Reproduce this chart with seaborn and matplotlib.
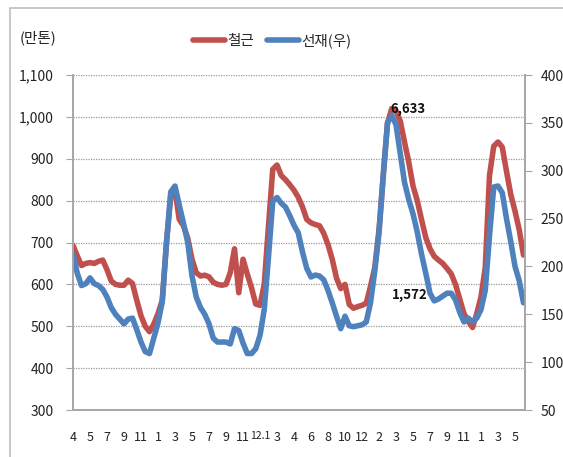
import matplotlib
matplotlib.use("Agg")
import matplotlib.pyplot as plt
import matplotlib.patches as mpatches
import seaborn as sns
import numpy as np
import pandas as pd

# 주간 재고 (철근: 만톤, 좌축 / 선재: 천톤, 우축)
rebar = [693, 668, 645, 650, 652, 650, 655, 658, 635, 608,
         600, 598, 598, 610, 602, 562, 525, 500, 487, 505,
         530, 562, 700, 810, 825, 755, 740, 710, 660, 628,
         620, 622, 618, 605, 600, 598, 600, 628, 685, 580,
         660, 625, 592, 553, 550, 600, 740, 875, 885, 860,
         850, 838, 825, 808, 785, 755, 747, 743, 740, 722,
         695, 660, 615, 590, 600, 552, 543, 547, 550, 555,
         595, 640, 730, 860, 985, 1020, 1015, 990, 940, 892,
         835, 800, 755, 712, 685, 667, 658, 650, 638, 625,
         600, 565, 530, 512, 497, 530, 570, 640, 860, 930,
         940, 928, 870, 815, 775, 730, 670]
wire_rod = [213, 193, 180, 182, 188, 182, 180, 176, 168, 157,
            150, 145, 140, 145, 146, 134, 121, 111, 109, 125,
            141, 163, 225, 278, 284, 264, 245, 225, 190, 168,
            157, 150, 140, 125, 121, 121, 121, 119, 135, 133,
            120, 109, 109, 114, 128, 155, 210, 268, 272, 266,
            262, 253, 243, 235, 215, 198, 189, 191, 190, 186,
            175, 162, 148, 135, 148, 138, 137, 138, 139, 142,
            162, 195, 235, 295, 350, 358, 348, 318, 288, 270,
            255, 236, 213, 193, 172, 164, 166, 169, 172, 172,
            165, 152, 142, 146, 142, 146, 155, 175, 232, 283,
            284, 277, 250, 226, 200, 185, 162]
month_labels = ["4", "5", "7", "9", "11", "1", "3", "5", "7", "9", "11", "12.1", "3",
                "4", "6", "8", "10", "12", "2", "3", "5", "7", "9", "11", "1", "3", "5"]

df = pd.DataFrame({"week": np.arange(len(rebar)), "rebar": rebar, "wire_rod": wire_rod})

sns.set_style("white")
plt.rcParams["font.family"] = ["Noto Sans CJK KR", "DejaVu Sans"]

RED = "#C0504D"
BLUE = "#4F81BD"
GRAY = "#A6A6A6"

fig = plt.figure(figsize=(5.63, 4.57), dpi=100)
ax = fig.add_axes([73 / 563, 1 - 410 / 457, (525 - 73) / 563, (410 - 75) / 457])
ax2 = ax.twinx()

sns.lineplot(data=df, x="week", y="rebar", ax=ax, color=RED, lw=4,
             solid_capstyle="round", label="철근", legend=False)
sns.lineplot(data=df, x="week", y="wire_rod", ax=ax2, color=BLUE, lw=4,
             solid_capstyle="round", label="선재(우)", legend=False)

ax.set_xlim(0, (525 - 73) / 4.25)
ax.set_ylim(300, 1100)
ax2.set_ylim(50, 400)
ax.set_yticks(range(300, 1101, 100))
ax.set_yticklabels([f"{v:,}" for v in range(300, 1101, 100)])
ax2.set_yticks(range(50, 401, 50))
ax.set_xticks(np.arange(0, 4 * len(month_labels), 4))
ax.set_xticklabels(month_labels)

for a in (ax, ax2):
    a.set_xlabel("")
    a.set_ylabel("")
    for s in a.spines.values():
        s.set_color(GRAY)
        s.set_linewidth(1.2)
    a.spines["top"].set_visible(False)

ax.yaxis.grid(True, linestyle=(0, (1, 1)), color="#9a9a9a", lw=0.9)
ax.set_axisbelow(True)
ax.tick_params(axis="y", direction="out", length=5, color=GRAY, pad=9, labelsize=10, labelcolor="#222222")
ax2.tick_params(axis="y", direction="out", length=5, color=GRAY, pad=6, labelsize=10, labelcolor="#222222")
ax.tick_params(axis="x", length=0, pad=15, labelsize=9, labelcolor="#222222")
# 좁은 간격의 "12.1" 라벨만 조금 작게
for lbl in ax.get_xticklabels():
    if lbl.get_text() == "12.1":
        lbl.set_fontsize(7.5)

ax2.text(74.6, 364, "6,633", fontsize=9.5, fontweight="bold", color="#111111", va="center", ha="left")
ax2.text(75.0, 170, "1,572", fontsize=9.5, fontweight="bold", color="#111111", va="center", ha="left")

fig.text(20 / 563, 1 - 38 / 457, "(만톤)", fontsize=10.5, va="center", ha="left", color="#222222")

h1, l1 = ax.get_legend_handles_labels()
h2, l2 = ax2.get_legend_handles_labels()
fig.legend(h1 + h2, l1 + l2, loc="center", bbox_to_anchor=(272 / 563, 1 - 41 / 457), ncol=2,
           frameon=False, fontsize=10.5, handlelength=2.2, handletextpad=0.15, columnspacing=0.9)

fig.patches.append(mpatches.Rectangle((10 / 563, -0.1), 1.2, 1.1 - 8 / 457, transform=fig.transFigure,
                                      fill=False, edgecolor="#BFBFBF", lw=1.2))

fig.savefig("out.png", dpi=100)
